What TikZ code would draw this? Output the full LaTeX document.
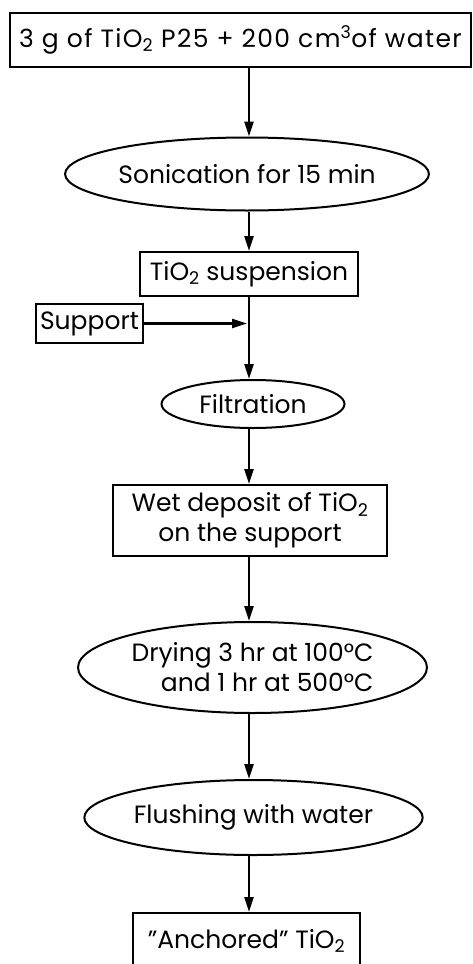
\documentclass[tikz,border=0pt]{standalone}
\usepackage{fontspec}
\usepackage{tikz}
\usetikzlibrary{shapes.geometric, arrows.meta}
\setmainfont{Poppins}

\begin{document}
\begin{tikzpicture}[x=1pt, y=-1pt,
    every node/.style={font=\fontsize{25}{30}\selectfont, inner sep=0pt},
    box/.style={draw, line width=2pt, rectangle},
    oval/.style={draw, line width=2pt, ellipse},
    arr/.style={line width=2.6pt, -{Triangle[length=15pt, width=9pt]}}]
    \useasboundingbox (0,0) rectangle (472,964);
    \clip (0,0) rectangle (472,964);

    \node[box, minimum width=461pt, minimum height=54pt] (mix) at (240.5,40) {\addfontfeature{LetterSpace=5.5}3 g of TiO\textsubscript{2} P25 + 200 cm\textsuperscript{3}of water};
    \node[oval, minimum width=281pt, minimum height=73pt] (sonic) at (247,174) {Sonication for 15 min};
    \node[box, minimum width=218pt, minimum height=44pt] (susp) at (249,274) {TiO\textsubscript{2} suspension};
    \node[box, minimum width=107pt, minimum height=39pt] (support) at (89.5,323.5) {Support};
    \node[oval, minimum width=183pt, minimum height=48pt] (filt) at (253,404) {Filtration};
    \node[box, minimum width=274pt, minimum height=71pt, align=center] (wet) at (250,520.5) {Wet deposit of TiO\textsubscript{2}\\on the support};
    \node[oval, minimum width=349pt, minimum height=91pt, align=right] (dry) at (252.5,667.5) {Drying 3 hr at 100°C\\and 1 hr at 500°C};
    \node[oval, minimum width=283pt, minimum height=75pt] (flush) at (253.5,817.5) {Flushing with water};
    \node[box, minimum width=227pt, minimum height=56pt] (anch) at (246.5,941) {"Anchored" TiO\textsubscript{2}};
    \coordinate (join) at (247,323.5);

    \draw[arr] (mix.south -| susp.north) -- (sonic.north -| susp.north);
    \draw[arr] (sonic.south -| susp.north) -- (susp);
    \draw[arr] (support) -- (join);
    \draw[arr] (susp.south) -- (filt.north -| susp.south);
    \draw[arr] (filt.south -| susp.south) -- (wet.north -| susp.south);
    \draw[arr] (wet.south -| susp.south) -- (dry.north -| susp.south);
    \draw[arr] (dry.south -| susp.south) -- (flush.north -| susp.south);
    \draw[arr] (flush.south -| susp.south) -- (anch.north -| susp.south);
\end{tikzpicture}
\end{document}
